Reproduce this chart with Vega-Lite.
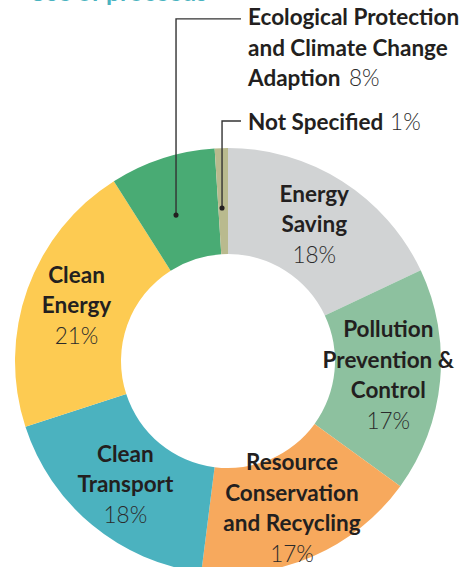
{
  "$schema": "https://vega.github.io/schema/vega-lite/v6.json",
  "width": 456,
  "height": 410,
  "autosize": {"type": "none"},
  "padding": {"left": 0, "top": 156, "right": 9, "bottom": 1},
  "background": "white",
  "config": {"view": {"stroke": null}},
  "datasets": {
    "shares": [
      {"rank": 1, "category": "Energy Saving", "share": 18, "name": "Energy\nSaving", "pct": "18%"},
      {"rank": 2, "category": "Pollution Prevention & Control", "share": 17, "name": "Pollution\nPrevention &\nControl", "pct": "17%"},
      {"rank": 3, "category": "Resource Conservation and Recycling", "share": 17, "name": "Resource\nConservation\nand Recycling", "pct": "17%"},
      {"rank": 4, "category": "Clean Transport", "share": 18, "name": "Clean\nTransport", "pct": "18%"},
      {"rank": 5, "category": "Clean Energy", "share": 21, "name": "Clean\nEnergy", "pct": "21%"},
      {"rank": 6, "category": "Ecological Protection and Climate Change Adaption", "share": 8, "name": "", "pct": ""},
      {"rank": 7, "category": "Not Specified", "share": 1, "name": "", "pct": ""}
    ],
    "callout_path": [
      {"callout": "eco", "step": 1, "x": -0.244, "y": 0.685},
      {"callout": "eco", "step": 2, "x": -0.244, "y": 1.606},
      {"callout": "eco", "step": 3, "x": 0.061, "y": 1.606},
      {"callout": "ns", "step": 1, "x": -0.028, "y": 0.718},
      {"callout": "ns", "step": 2, "x": -0.028, "y": 1.127},
      {"callout": "ns", "step": 3, "x": 0.061, "y": 1.127}
    ],
    "callout_text": [
      {"part": "name", "text": "Ecological Protection\nand Climate Change\nAdaption", "x": 0.094, "y": 1.577},
      {"part": "pct", "text": "8%", "x": 0.568, "y": 1.291},
      {"part": "name", "text": "Not Specified", "x": 0.094, "y": 1.085},
      {"part": "pct", "text": "1%", "x": 0.761, "y": 1.085},
      {"part": "title", "text": "Use of proceeds", "x": -0.935, "y": 1.69}
    ]
  },
  "layer": [
    {
      "data": {"name": "shares"},
      "mark": {"type": "arc", "outerRadius": 213, "innerRadius": 107},
      "encoding": {
        "theta": {"field": "share", "type": "quantitative", "stack": true},
        "order": {"field": "rank", "type": "quantitative"},
        "color": {
          "field": "category",
          "type": "nominal",
          "legend": null,
          "scale": {
            "domain": ["Energy Saving", "Pollution Prevention & Control", "Resource Conservation and Recycling", "Clean Transport", "Clean Energy", "Ecological Protection and Climate Change Adaption", "Not Specified"],
            "range": ["#d1d3d4", "#8dc19f", "#f7a95d", "#4bb2bf", "#fdcb52", "#49ab74", "#b9ba8e"]
          }
        }
      }
    },
    {
      "data": {"name": "shares"},
      "mark": {"type": "text", "radius": 161, "dy": -30.5, "lineBreak": "\n", "lineHeight": 30.5, "font": "Lato", "fontWeight": "bold", "fontSize": 22.5, "fill": "#231f20", "align": "center", "baseline": "middle"},
      "encoding": {
        "theta": {"field": "share", "type": "quantitative", "stack": true},
        "order": {"field": "rank", "type": "quantitative"},
        "text": {"condition": {"test": "length(split(datum.name, '\\n')) === 2", "field": "name", "type": "nominal"}, "value": ""}
      }
    },
    {
      "data": {"name": "shares"},
      "mark": {"type": "text", "radius": 161, "dy": -45.75, "lineBreak": "\n", "lineHeight": 30.5, "font": "Lato", "fontWeight": "bold", "fontSize": 22.5, "fill": "#231f20", "align": "center", "baseline": "middle"},
      "encoding": {
        "theta": {"field": "share", "type": "quantitative", "stack": true},
        "order": {"field": "rank", "type": "quantitative"},
        "text": {"condition": {"test": "length(split(datum.name, '\\n')) === 3", "field": "name", "type": "nominal"}, "value": ""}
      }
    },
    {
      "data": {"name": "shares"},
      "mark": {"type": "text", "radius": 161, "dy": 30.5, "font": "Lato", "fontWeight": 300, "fontSize": 22.5, "fill": "#2b2b2b", "align": "center", "baseline": "middle"},
      "encoding": {
        "theta": {"field": "share", "type": "quantitative", "stack": true},
        "order": {"field": "rank", "type": "quantitative"},
        "text": {"condition": {"test": "length(split(datum.name, '\\n')) === 2", "field": "pct", "type": "nominal"}, "value": ""}
      }
    },
    {
      "data": {"name": "shares"},
      "mark": {"type": "text", "radius": 161, "dy": 45.75, "font": "Lato", "fontWeight": 300, "fontSize": 22.5, "fill": "#2b2b2b", "align": "center", "baseline": "middle"},
      "encoding": {
        "theta": {"field": "share", "type": "quantitative", "stack": true},
        "order": {"field": "rank", "type": "quantitative"},
        "text": {"condition": {"test": "length(split(datum.name, '\\n')) === 3", "field": "pct", "type": "nominal"}, "value": ""}
      }
    },
    {
      "data": {"name": "callout_path"},
      "mark": {"type": "line", "stroke": "#333333", "strokeWidth": 1.4, "interpolate": "linear"},
      "encoding": {
        "x": {"field": "x", "type": "quantitative", "axis": null, "scale": {"domain": [-1.0704, 1.0704], "nice": false, "zero": false}},
        "y": {"field": "y", "type": "quantitative", "axis": null, "scale": {"domain": [-0.9624, 0.9624], "nice": false, "zero": false}},
        "detail": {"field": "callout", "type": "nominal"},
        "order": {"field": "step", "type": "quantitative"}
      }
    },
    {
      "data": {"name": "callout_path"},
      "transform": [{"filter": "datum.step === 1"}],
      "mark": {"type": "point", "filled": true, "size": 26, "fill": "#231f20", "opacity": 1},
      "encoding": {
        "x": {"field": "x", "type": "quantitative", "axis": null, "scale": {"domain": [-1.0704, 1.0704], "nice": false, "zero": false}},
        "y": {"field": "y", "type": "quantitative", "axis": null, "scale": {"domain": [-0.9624, 0.9624], "nice": false, "zero": false}}
      }
    },
    {
      "data": {"name": "callout_text"},
      "transform": [{"filter": "datum.part === 'name'"}],
      "mark": {"type": "text", "lineBreak": "\n", "lineHeight": 30.5, "font": "Lato", "fontWeight": "bold", "fontSize": 22.5, "fill": "#231f20", "align": "left", "baseline": "alphabetic"},
      "encoding": {
        "x": {"field": "x", "type": "quantitative", "axis": null, "scale": {"domain": [-1.0704, 1.0704], "nice": false, "zero": false}},
        "y": {"field": "y", "type": "quantitative", "axis": null, "scale": {"domain": [-0.9624, 0.9624], "nice": false, "zero": false}},
        "text": {"field": "text", "type": "nominal"}
      }
    },
    {
      "data": {"name": "callout_text"},
      "transform": [{"filter": "datum.part === 'pct'"}],
      "mark": {"type": "text", "font": "Lato", "fontWeight": 300, "fontSize": 22.5, "fill": "#2b2b2b", "align": "left", "baseline": "alphabetic"},
      "encoding": {
        "x": {"field": "x", "type": "quantitative", "axis": null, "scale": {"domain": [-1.0704, 1.0704], "nice": false, "zero": false}},
        "y": {"field": "y", "type": "quantitative", "axis": null, "scale": {"domain": [-0.9624, 0.9624], "nice": false, "zero": false}},
        "text": {"field": "text", "type": "nominal"}
      }
    },
    {
      "data": {"name": "callout_text"},
      "transform": [{"filter": "datum.part === 'title'"}],
      "mark": {"type": "text", "font": "Lato", "fontWeight": "bold", "fontSize": 25, "fill": "#4ab3c0", "align": "left", "baseline": "alphabetic"},
      "encoding": {
        "x": {"field": "x", "type": "quantitative", "axis": null, "scale": {"domain": [-1.0704, 1.0704], "nice": false, "zero": false}},
        "y": {"field": "y", "type": "quantitative", "axis": null, "scale": {"domain": [-0.9624, 0.9624], "nice": false, "zero": false}},
        "text": {"field": "text", "type": "nominal"}
      }
    }
  ]
}
